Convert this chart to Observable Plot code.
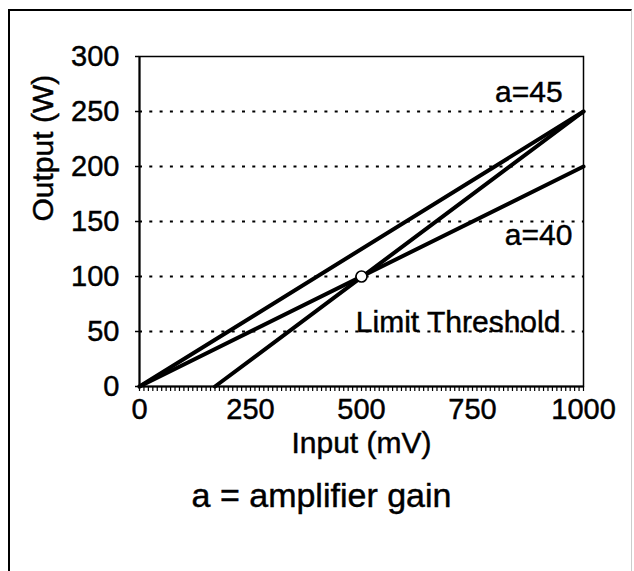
<!DOCTYPE html>
<html>
<head>
<meta charset="utf-8">
<script src="https://cdn.jsdelivr.net/npm/d3@7"></script>
<script src="https://cdn.jsdelivr.net/npm/@observablehq/plot@0.6"></script>
<style>
  html, body { margin: 0; padding: 0; background: #fff; }
  #wrap { position: relative; width: 634px; height: 571px; overflow: hidden; }
  #border { position: absolute; left: 8px; top: 9px; width: 621px; height: 600px;
            border-top: 2px solid #000; border-left: 2px solid #000; border-right: 1px solid #ccc;
            pointer-events: none; }
  #chart { position: absolute; left: 0; top: 0; }
  #chart svg text { stroke: #000; stroke-width: 0.45px; }
</style>
</head>
<body>
<div id="wrap"><div id="chart"></div><div id="border"></div></div>
<script>
// Tick values
const xTicks = [0, 250, 500, 750, 1000];
const xMinorTicks = d3.range(0, 1001, 10);
const yTicks = [0, 50, 100, 150, 200, 250, 300];
const gridY = [50, 100, 150, 200, 250];

// Series (input mV -> output W)
const seriesNames = ["a=45", "a=40", "limit"];
const inputA = [0, 1000];
const outputA = [0, 250];
const inputB = [0, 1000];
const outputB = [0, 200];
const inputC = [170, 1000];
const outputC = [0, 250];

// Threshold point
const thresholdX = [500];
const thresholdY = [100];

// In-plot labels
const labelText = ["a=45", "a=40", "Limit Threshold"];
const labelX = [953, 975, 948];
const labelY = [267, 137, 58];

const lines = [
  ...inputA.map((x, i) => ({series: seriesNames[0], x, y: outputA[i]})),
  ...inputB.map((x, i) => ({series: seriesNames[1], x, y: outputB[i]})),
  ...inputC.map((x, i) => ({series: seriesNames[2], x, y: outputC[i]}))
];
const points = thresholdX.map((x, i) => ({x, y: thresholdY[i]}));
const labels = labelText.map((t, i) => ({text: t, x: labelX[i], y: labelY[i]}));

const font = "'Liberation Sans', Arial, Helvetica, sans-serif";

const chart = Plot.plot({
  width: 634,
  height: 571,
  marginLeft: 139,
  marginRight: 51,
  marginTop: 56,
  marginBottom: 185,
  x: {domain: [0, 1000], label: null},
  y: {domain: [0, 300], label: null},
  style: {fontFamily: font, fontSize: "29px", color: "#000", background: "transparent", overflow: "visible"},
  marks: [
    Plot.ruleY(gridY, {y: d => d, x1: 0, x2: 1000, stroke: "#000", strokeWidth: 2.2, strokeDasharray: "3,7.3"}),
    Plot.axisX({ticks: xMinorTicks, tickSize: 5, tickFormat: () => "", label: null, strokeWidth: 1.2}),
    Plot.axisX({ticks: xTicks, tickSize: 0, tickPadding: 12, tickFormat: d3.format("d"), label: null}),
    Plot.axisY({ticks: yTicks, tickSize: 4, tickPadding: 16, tickFormat: d3.format("d"), label: null, strokeWidth: 1.5}),
    Plot.frame({stroke: "#000", strokeWidth: 1.5}),
    Plot.ruleX([0], {stroke: "#000", strokeWidth: 2}),
    Plot.ruleY([0], {stroke: "#000", strokeWidth: 2}),
    Plot.line(lines, {x: "x", y: "y", z: "series", stroke: "#000", strokeWidth: 4}),
    Plot.dot(points, {x: "x", y: "y", r: 5.5, fill: "#fff", stroke: "#000", strokeWidth: 1.6}),
    Plot.text(labels, {x: "x", y: "y", text: "text", textAnchor: "end", lineAnchor: "middle", fontSize: 30, fill: "#000"}),
    Plot.text(["Output (W)"], {frameAnchor: "left", rotate: -90, dx: -96, lineAnchor: "middle", fontSize: 30, fill: "#000"}),
    Plot.text(["Input (mV)"], {frameAnchor: "bottom", dy: 57, lineAnchor: "middle", fontSize: 30, fill: "#000"}),
    Plot.text(["a = amplifier gain"], {frameAnchor: "bottom", dx: -40, dy: 110, lineAnchor: "middle", fontSize: 34, fill: "#000"})
  ]
});
document.getElementById("chart").appendChild(chart);
</script>
</body>
</html>
